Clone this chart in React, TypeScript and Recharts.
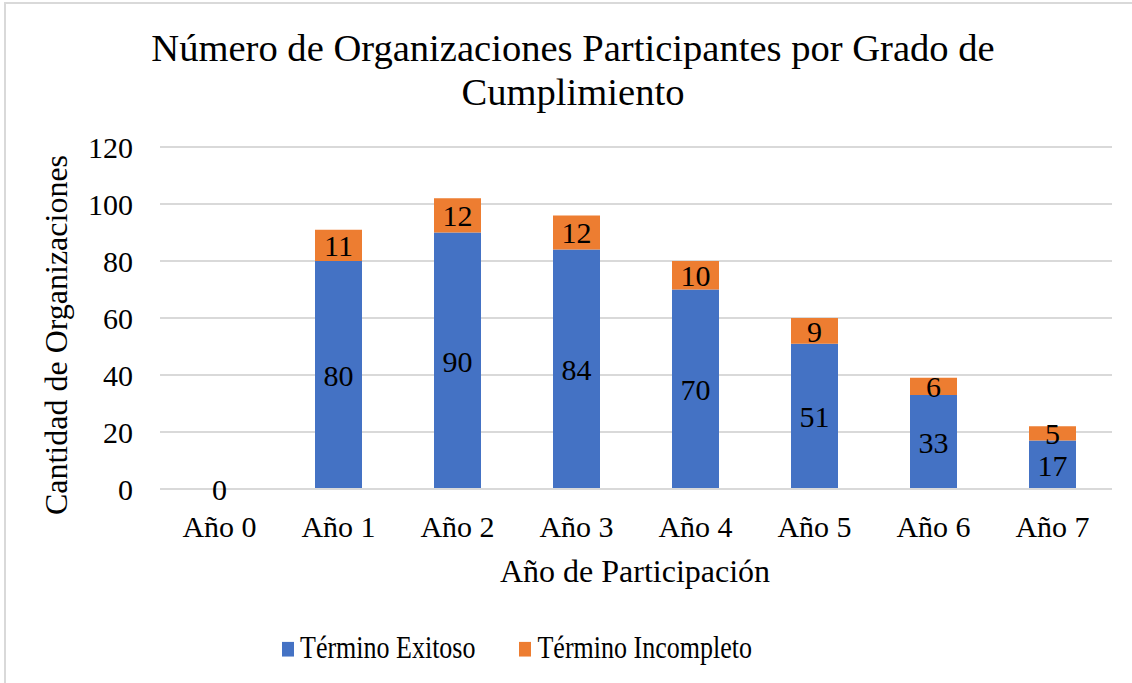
import { BarChart, Bar, XAxis, YAxis, CartesianGrid, LabelList, Legend } from 'recharts'

// Número de organizaciones por año de participación y grado de cumplimiento
const YEARS = ['Año 0', 'Año 1', 'Año 2', 'Año 3', 'Año 4', 'Año 5', 'Año 6', 'Año 7']
const EXITOSO = [0, 80, 90, 84, 70, 51, 33, 17]
const INCOMPLETO = [0, 11, 12, 12, 10, 9, 6, 5]
const Y_TICKS = [0, 20, 40, 60, 80, 100, 120]

const BLUE = '#4472C4'
const ORANGE = '#ED7D31'
const GRID = '#d9d9d9'
const FONT = "'Liberation Serif', 'Times New Roman', serif"

const data = YEARS.map((year, i) => ({ year, exitoso: EXITOSO[i], incompleto: INCOMPLETO[i] }))

type LegendItem = { value?: string; color?: string }

function LegendContent({ payload }: { payload?: LegendItem[] }) {
  return (
    <div
      style={{
        display: 'flex',
        alignItems: 'center',
        fontFamily: FONT,
        fontSize: 26,
        lineHeight: '30px',
        color: '#000',
        transform: 'scale(1, 1.22)',
        transformOrigin: 'left center',
      }}
    >
      {(payload ?? []).map((p, i) => (
        <div key={i} style={{ display: 'flex', alignItems: 'center', marginRight: i === 0 ? 44 : 0 }}>
          <span style={{ display: 'inline-block', width: 12, height: 12, background: p.color, marginRight: 6, marginTop: 1 }} />
          <span>{p.value}</span>
        </div>
      ))}
    </div>
  )
}

// label centred in its segment; also drawn for zero-height segments (Año 0)
function SegmentLabel(props: any) {
  const { x, y, width, height, value } = props
  if (value === undefined || value === null) return null
  return (
    <text
      x={Number(x) + Number(width) / 2}
      y={Number(y) + Number(height) / 2}
      dy="0.36em"
      textAnchor="middle"
      fill="#000"
      fontSize={30}
      style={{ fontFamily: FONT }}
    >
      {value}
    </text>
  )
}

export default function App() {
  return (
    <div style={{ position: 'absolute', left: 0, top: 0, width: 1132, height: 683, overflow: 'hidden', background: '#fff', fontFamily: FONT }}>
      <style>{`.recharts-wrapper text { font-family: ${FONT} !important; }`}</style>
      <div style={{ position: 'absolute', left: 4, top: 2, width: 1200, height: 800, border: `2px solid ${GRID}` }} />

      <div style={{ position: 'absolute', left: 0, top: 26, width: 1146, textAlign: 'center', fontSize: 38.6, lineHeight: '44px', color: '#000' }}>
        <div>Número de Organizaciones Participantes por Grado de</div>
        <div>Cumplimiento</div>
      </div>

      <BarChart
        width={1132}
        height={683}
        data={data}
        margin={{ top: 147, right: 20, bottom: 164, left: 100 }}
        style={{ position: 'absolute', left: 0, top: 0, fontFamily: FONT }}
      >
        <CartesianGrid vertical={false} stroke={GRID} strokeWidth={2} />
        <XAxis
          dataKey="year"
          height={30}
          tickLine={false}
          tickSize={0}
          tickMargin={27}
          axisLine={{ stroke: GRID, strokeWidth: 2 }}
          tick={{ fontSize: 30, fill: '#000' }}
        />
        <YAxis
          width={60}
          domain={[0, 120]}
          ticks={Y_TICKS}
          tickLine={false}
          tickSize={0}
          tickMargin={27}
          axisLine={false}
          tick={{ fontSize: 30, fill: '#000' }}
        />
        <Legend
          layout="horizontal"
          verticalAlign="middle"
          align="center"
          wrapperStyle={{ position: 'absolute', left: 282, top: 633, width: 'auto' }}
          content={(props: any) => <LegendContent payload={props.payload} />}
        />
        <Bar dataKey="exitoso" name="Término Exitoso" stackId="a" fill={BLUE} barSize={47} minPointSize={0.01} isAnimationActive={false}>
          <LabelList dataKey="exitoso" content={SegmentLabel} />
        </Bar>
        <Bar dataKey="incompleto" name="Término Incompleto" stackId="a" fill={ORANGE} barSize={47} isAnimationActive={false}>
          <LabelList dataKey="incompleto" content={SegmentLabel} />
        </Bar>
      </BarChart>

      <div style={{ position: 'absolute', left: 335, top: 553, width: 600, textAlign: 'center', fontSize: 32, lineHeight: '36px', color: '#000' }}>
        Año de Participación
      </div>
      <div
        style={{
          position: 'absolute',
          left: -144,
          top: 317,
          width: 400,
          height: 36,
          textAlign: 'center',
          fontSize: 32,
          lineHeight: '36px',
          color: '#000',
          transform: 'rotate(-90deg)',
          whiteSpace: 'nowrap',
        }}
      >
        Cantidad de Organizaciones
      </div>
    </div>
  )
}
